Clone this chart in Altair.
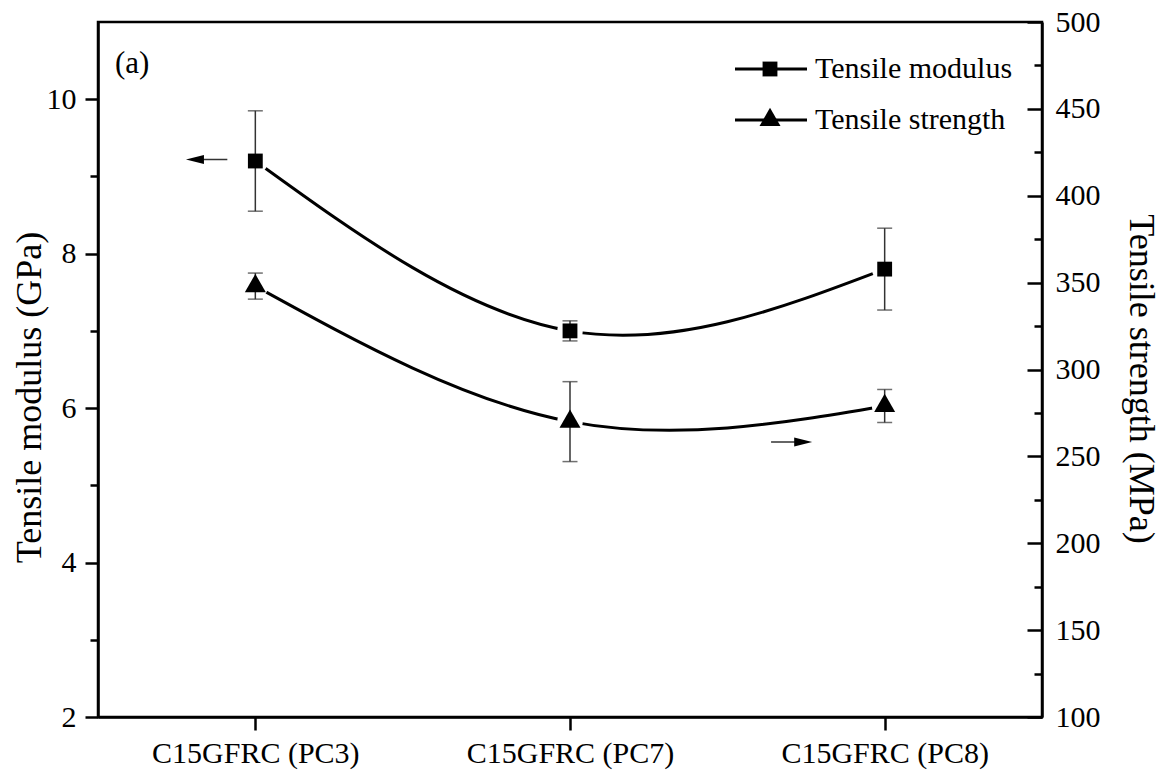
import altair as alt
import pandas as pd

# ---------------- data ----------------
categories = ["C15GFRC (PC3)", "C15GFRC (PC7)", "C15GFRC (PC8)"]
positions = [0, 1, 2]
modulus = [9.2, 7.0, 7.8]          # GPa
modulus_err = [0.65, 0.13, 0.53]
strength = [348.0, 270.0, 279.0]   # MPa
strength_err = [7.5, 23.0, 9.5]

mod_ticks = [2, 3, 4, 5, 6, 7, 8, 9, 10]
str_ticks = [100, 125, 150, 175, 200, 225, 250, 275, 300, 325, 350, 375,
             400, 425, 450, 475, 500]

# arrows pointing to the axis each series belongs to (data units)
arrow_mod_tail = [-0.089]
arrow_mod_head = [-0.192]
arrow_mod_y = [9.22]
arrow_str_tail = [1.639]
arrow_str_head = [1.741]
arrow_str_y = [258.3]

legend_labels = ["Tensile modulus", "Tensile strength"]
panel_label = ["(a)"]

# ---------------- style ----------------
FONT = "Liberation Serif"
W, H = 944, 695
TRI = "M 0 -1.155 L 1 0.577 L -1 0.577 Z"
HEAD_LEFT = "M -1 0 L 1 -0.5 L 1 0.5 Z"
HEAD_RIGHT = "M 1 0 L -1 -0.5 L -1 0.5 Z"

df = pd.DataFrame({
    "idx": positions, "cat": categories,
    "mod": modulus, "mod_err": modulus_err,
    "str": strength, "str_err": strength_err,
})

x_scale = alt.Scale(domain=[-0.5, 2.5], nice=False, zero=False)
label_expr = "[" + ",".join("'" + c + "'" for c in categories) + "][datum.value]"
x_axis = alt.Axis(values=positions, labelExpr=label_expr, title=None,
                  tickSize=13, tickWidth=2.5, domainWidth=2.5, labelPadding=8,
                  labelFontSize=30, labelFont=FONT, grid=False, labelLimit=0,
                  labelOverlap=False, labelFlush=False)


def X(field="idx"):
    return alt.X(f"{field}:Q", scale=x_scale, axis=x_axis)


mod_scale = alt.Scale(domain=[2, 11], nice=False, zero=False)
mod_axis = alt.Axis(orient="left", values=mod_ticks,
                    labelExpr="datum.value % 2 === 0 ? datum.label : ''",
                    tickSize={"expr": "datum.value % 2 === 0 ? 13 : 8"},
                    tickWidth=2.5, domainWidth=2.5, labelPadding=9,
                    labelFontSize=30, labelFont=FONT, grid=False,
                    labelOverlap=False, labelFlush=False,
                    title="Tensile modulus (GPa)", titleFont=FONT,
                    titleFontSize=36, titleFontWeight="normal",
                    titleAngle=-90, titleX=-69, titleY=375,
                    titleAlign="center", titleBaseline="middle")

str_scale = alt.Scale(domain=[100, 500], nice=False, zero=False)
str_axis = alt.Axis(orient="right", values=str_ticks,
                    labelExpr="datum.value % 50 === 0 ? datum.label : ''",
                    tickSize={"expr": "datum.value % 50 === 0 ? -15 : -8"},
                    tickWidth=2.5, domainWidth=2.5, labelPadding=28,
                    labelFontSize=30, labelFont=FONT, grid=False,
                    labelOverlap=False, labelFlush=False,
                    title="Tensile strength (MPa)", titleFont=FONT,
                    titleFontSize=36, titleFontWeight="normal",
                    titleAngle=90, titleX=98, titleY=356.5,
                    titleAlign="center", titleBaseline="middle")


def series_layers(val, err, scale, axis, shape, size, a_tail, a_head, a_y, head_shape):
    def Y(f):
        return alt.Y(f"{f}:Q", scale=scale, axis=axis)

    base = alt.Chart(df)
    line = base.mark_line(interpolate="natural", color="black",
                          strokeWidth=3).encode(x=X(), y=Y(val))
    halo = base.mark_point(shape="circle", size=650, filled=True,
                           color="white", opacity=1).encode(x=X(), y=Y(val))
    eb = base.transform_calculate(
        lo=f"datum['{val}'] - datum['{err}']",
        hi=f"datum['{val}'] + datum['{err}']")
    bar = eb.mark_rule(color="#333333", strokeWidth=1.5).encode(
        x=X(), y=Y("lo"), y2="hi:Q")
    caps = eb.transform_fold(["lo", "hi"], as_=["k", "v"]).mark_tick(
        orient="horizontal", size=15, thickness=1.5, color="#333333").encode(
        x=X(), y=Y("v"))
    pts = base.mark_point(shape=shape, size=size, filled=True,
                          color="black", opacity=1).encode(x=X(), y=Y(val))
    adf = pd.DataFrame({"x": a_tail, "x2": a_head, "y": a_y})
    arule = alt.Chart(adf).mark_rule(color="#333333", strokeWidth=1.5).encode(
        x=X("x"), x2="x2:Q", y=Y("y"))
    ahead = alt.Chart(adf).mark_point(shape=head_shape, size=324, filled=True,
                                      color="black", opacity=1).encode(
        x=X("x2"), y=Y("y"))
    return alt.layer(line, halo, bar, caps, pts, arule, ahead)


mod_layer = series_layers("mod", "mod_err", mod_scale, mod_axis, "square", 220,
                          arrow_mod_tail, arrow_mod_head, arrow_mod_y, HEAD_LEFT)
str_layer = series_layers("str", "str_err", str_scale, str_axis, TRI, 441,
                          arrow_str_tail, arrow_str_head, arrow_str_y, HEAD_RIGHT)

# ---------------- legend & panel label ----------------
extras = []
leg_shapes = ["square", TRI]
leg_sizes = [220, 441]
leg_y = [47, 98]
for lab, shp, sz, yy in zip(legend_labels, leg_shapes, leg_sizes, leg_y):
    ld = alt.Chart(pd.DataFrame({"t": [lab]}))
    extras.append(ld.mark_rule(color="black", strokeWidth=3).encode(
        x=alt.value(637), x2=alt.value(709), y=alt.value(yy)))
    extras.append(ld.mark_point(shape=shp, size=sz, filled=True, color="black",
                                opacity=1).encode(x=alt.value(672), y=alt.value(yy)))
    extras.append(ld.mark_text(align="left", baseline="middle", font=FONT,
                               fontSize=30, color="black").encode(
        x=alt.value(717), y=alt.value(yy), text="t:N"))

extras.append(alt.Chart(pd.DataFrame({"t": panel_label})).mark_text(
    align="left", baseline="middle", font=FONT, fontSize=31, color="black").encode(
    x=alt.value(17), y=alt.value(42), text="t:N"))

chart = alt.layer(mod_layer, str_layer, *extras).resolve_scale(
    y="independent"
).properties(
    width=W, height=H,
    padding={"left": 98, "top": 22, "right": 121, "bottom": 57},
    autosize=alt.AutoSizeParams(type="none"),
    background="white",
).configure_view(
    stroke="black", strokeWidth=2.5
).configure_axis(
    labelColor="black", tickColor="black", domainColor="black",
    titleColor="black"
)

chart.save("out.html", embed_options={"renderer": "svg", "actions": False})
